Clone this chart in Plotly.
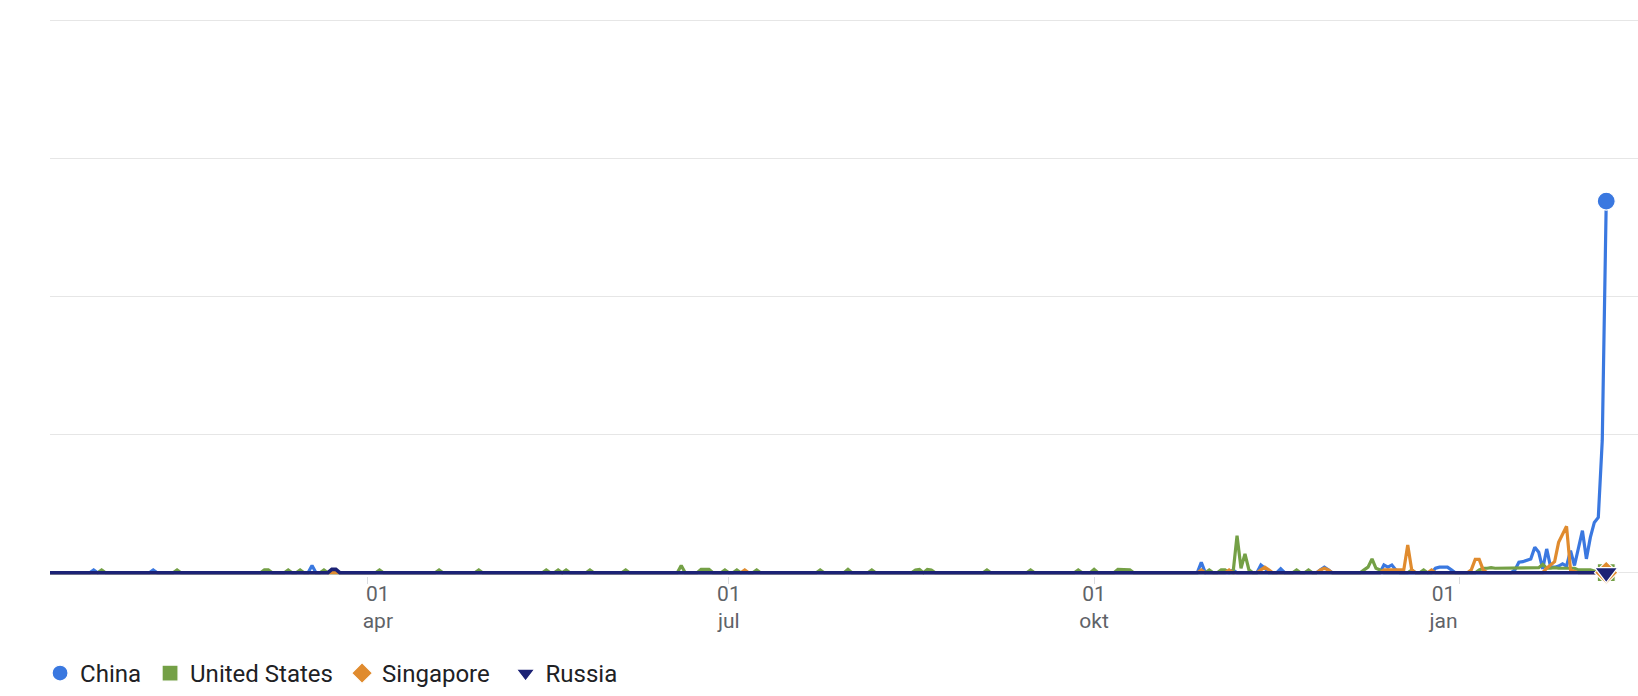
import pandas as pd
import plotly.graph_objects as go

# ---- data (daily interest, sparse: all other days read as 0) ----
start_date = "2024-01-12"
end_date = "2025-02-07"

china_dates = ["2024-01-23", "2024-02-07", "2024-03-18", "2024-10-28", "2024-11-05",
               "2024-11-12", "2024-11-13", "2024-11-17", "2024-11-27", "2024-11-28",
               "2024-11-29", "2024-12-13", "2024-12-14", "2024-12-15", "2024-12-16",
               "2024-12-26", "2024-12-27", "2024-12-28", "2024-12-29", "2024-12-30",
               "2025-01-15", "2025-01-16", "2025-01-17", "2025-01-18", "2025-01-19",
               "2025-01-20", "2025-01-21", "2025-01-22", "2025-01-23", "2025-01-24",
               "2025-01-25", "2025-01-26", "2025-01-27", "2025-01-28", "2025-01-29",
               "2025-01-30", "2025-01-31", "2025-02-01", "2025-02-02", "2025-02-03",
               "2025-02-04", "2025-02-05", "2025-02-06", "2025-02-07"]
china_values = [0.5, 0.5, 1.3, 1.9, 0.5,
                1.4, 0.8, 0.7, 0.5, 1.0,
                0.5, 1.4, 1.0, 1.4, 0.5,
                0.8, 1.0, 1.0, 1.0, 0.5,
                0.5, 1.9, 2.0, 2.2, 2.5,
                4.6, 3.7, 0.7, 4.3, 1.0,
                1.0, 1.2, 1.6, 1.2, 4.0,
                1.3, 4.5, 7.6, 2.5, 6.4,
                9.1, 10.0, 24.0, 67.3]

us_dates = ["2024-01-25", "2024-02-13", "2024-03-06", "2024-03-07", "2024-03-12",
            "2024-03-15", "2024-03-21", "2024-04-04", "2024-04-19", "2024-04-29",
            "2024-05-16", "2024-05-19", "2024-05-21", "2024-05-27", "2024-06-05",
            "2024-06-19", "2024-06-24", "2024-06-25", "2024-06-26", "2024-06-30",
            "2024-07-03", "2024-07-08", "2024-07-24", "2024-07-31", "2024-08-06",
            "2024-08-17", "2024-08-18", "2024-08-20", "2024-08-21", "2024-09-04",
            "2024-09-15", "2024-09-27", "2024-10-01", "2024-10-07", "2024-10-08",
            "2024-10-09", "2024-10-10", "2024-10-30", "2024-11-02", "2024-11-03",
            "2024-11-06", "2024-11-07", "2024-11-08", "2024-11-09", "2024-11-21",
            "2024-11-24", "2024-12-08", "2024-12-09", "2024-12-10", "2024-12-11",
            "2024-12-12", "2024-12-20", "2024-12-23",
            "2025-01-06", "2025-01-07", "2025-01-08", "2025-01-09", "2025-01-10",
            "2025-01-11", "2025-01-12", "2025-01-13", "2025-01-14", "2025-01-15",
            "2025-01-16", "2025-01-17", "2025-01-18", "2025-01-19", "2025-01-20",
            "2025-01-21", "2025-01-22", "2025-01-23", "2025-01-24", "2025-01-25",
            "2025-01-26", "2025-01-27", "2025-01-28", "2025-01-29", "2025-01-30",
            "2025-01-31", "2025-02-01", "2025-02-02", "2025-02-03", "2025-02-04",
            "2025-02-05", "2025-02-06"]
us_values = [0.5, 0.5, 0.5, 0.5, 0.5,
             0.5, 0.5, 0.5, 0.5, 0.5,
             0.5, 0.5, 0.5, 0.5, 0.5,
             1.3, 0.6, 0.6, 0.6, 0.5,
             0.5, 0.5, 0.5, 0.6, 0.5,
             0.5, 0.6, 0.6, 0.5, 0.5,
             0.5, 0.5, 0.6, 0.6, 0.6,
             0.6, 0.5, 0.5, 0.5, 0.5,
             6.7, 0.8, 3.4, 0.5, 0.5,
             0.5, 0.5, 1.0, 2.5, 0.8,
             0.5, 0.5, 0.5,
             0.5, 0.8, 0.8, 0.9, 0.8,
             0.8, 0.9, 0.8, 0.8, 0.9,
             0.8, 0.8, 0.9, 0.8, 0.8,
             0.9, 1.5, 0.8, 0.8, 0.9,
             0.8, 0.8, 0.8, 0.8, 0.8,
             0.5, 0.5, 0.5, 0.5, 0.3,
             0.3, 0.3]

singapore_dates = ["2024-07-05", "2024-10-28", "2024-11-04", "2024-11-12", "2024-11-13",
                   "2024-11-14", "2024-11-27", "2024-11-28", "2024-11-29", "2024-12-13",
                   "2024-12-14", "2024-12-15", "2024-12-16", "2024-12-17", "2024-12-18",
                   "2024-12-19", "2024-12-20", "2024-12-25", "2025-01-04", "2025-01-05",
                   "2025-01-06", "2025-01-07", "2025-01-23", "2025-01-24", "2025-01-25",
                   "2025-01-26", "2025-01-27", "2025-01-28", "2025-01-29", "2025-01-30"]
singapore_values = [0.5, 0.5, 0.5, 0.5, 1.0,
                    0.5, 0.5, 0.8, 0.5, 0.5,
                    0.5, 0.5, 0.5, 0.5, 0.5,
                    5.0, 0.5, 0.5, 0.5, 2.4,
                    2.4, 0.5, 0.8, 1.5, 2.0,
                    5.5, 6.8, 8.4, 0.5, 0.3]

russia_dates = ["2024-03-23", "2024-03-24"]
russia_values = [0.6, 0.6]

# month tick marks, and where the reference centres its two-line labels
tick_dates = ["2024-04-01", "2024-07-01", "2024-10-01", "2025-01-01"]
label_dates = ["2024-04-03 14:00", "2024-07-01", "2024-10-01", "2024-12-28"]
tick_labels = ["01<br>apr", "01<br>jul", "01<br>okt", "01<br>jan"]

x_range = ["2024-01-12", "2025-02-15"]

series = [
    ("China", china_dates, china_values, "#3a78e0", "circle", 18),
    ("United States", us_dates, us_values, "#74a046", "square", 18),
    ("Singapore", singapore_dates, singapore_values, "#e08b2e", "diamond", 18),
    ("Russia", russia_dates, russia_values, "#1c2275", "triangle-down", 20),
]
legend_names = ["legend", "legend2", "legend3", "legend4"]
legend_x = [-0.00626, 0.06301, 0.18392, 0.28688]

all_days = pd.date_range(start_date, end_date, freq="D")

fig = go.Figure()
frames = []
for name, d, v, color, sym, size in series:
    s = pd.Series(v, index=pd.to_datetime(d)).reindex(all_days, fill_value=0.0)
    frames.append((name, s, color, sym, size))
    fig.add_trace(go.Scatter(x=s.index, y=s.values, mode="lines", name=name,
                             line=dict(color=color, width=3.2 if name != "Russia" else 3.6),
                             showlegend=False, legendgroup=name, hoverinfo="skip"))

for (name, s, color, sym, size), lg in zip(frames, legend_names):
    fig.add_trace(go.Scatter(x=[s.index[-1]], y=[s.values[-1]], mode="markers", name=name,
                             marker=dict(color=color, symbol=sym, size=size,
                                         line=dict(color="white", width=1.2)),
                             cliponaxis=False, legendgroup=name, legend=lg))

# invisible helper so the label axis gets drawn
fig.add_trace(go.Scatter(x=[x_range[0]], y=[None], xaxis="x2", mode="markers",
                         showlegend=False, hoverinfo="skip"))

plot_top = 19.34
plot_bottom = 576.31
legend_common = dict(orientation="h", xanchor="left", y=-0.1754, yanchor="middle",
                     font=dict(size=24, color="#202124"), bgcolor="rgba(0,0,0,0)",
                     itemclick=False)
legend_layout = {lg: dict(x=lx, **legend_common) for lg, lx in zip(legend_names, legend_x)}

tickfont = dict(size=21, color="#5f6368", family="Roboto, Arial, sans-serif")

fig.update_layout(
    width=1638, height=696, autosize=False,
    margin=dict(l=50, r=0, t=plot_top, b=696 - plot_bottom, pad=0),
    paper_bgcolor="white", plot_bgcolor="white",
    font=dict(family="Roboto, Arial, sans-serif"),
    showlegend=True,
    xaxis=dict(type="date", range=x_range,
               tickvals=tick_dates, ticktext=["", "", "", ""],
               showgrid=False, zeroline=False, showline=False,
               ticks="outside", ticklen=7, tickcolor="#dadce0", tickwidth=1),
    xaxis2=dict(type="date", range=x_range, overlaying="x", anchor="y", side="bottom",
                tickvals=label_dates, ticktext=tick_labels, ticks="",
                showgrid=False, zeroline=False, showline=False,
                ticklabelstandoff=3, tickfont=tickfont),
    yaxis=dict(range=[-0.6, 100.3], tick0=0, dtick=25, showticklabels=False,
               showgrid=True, gridcolor="#e6e6e6", gridwidth=1.2,
               zeroline=False, showline=False, ticks=""),
    **legend_layout,
)

fig.write_html("out.html", config={"displayModeBar": False},
               post_script="document.body.style.margin='0px';")
